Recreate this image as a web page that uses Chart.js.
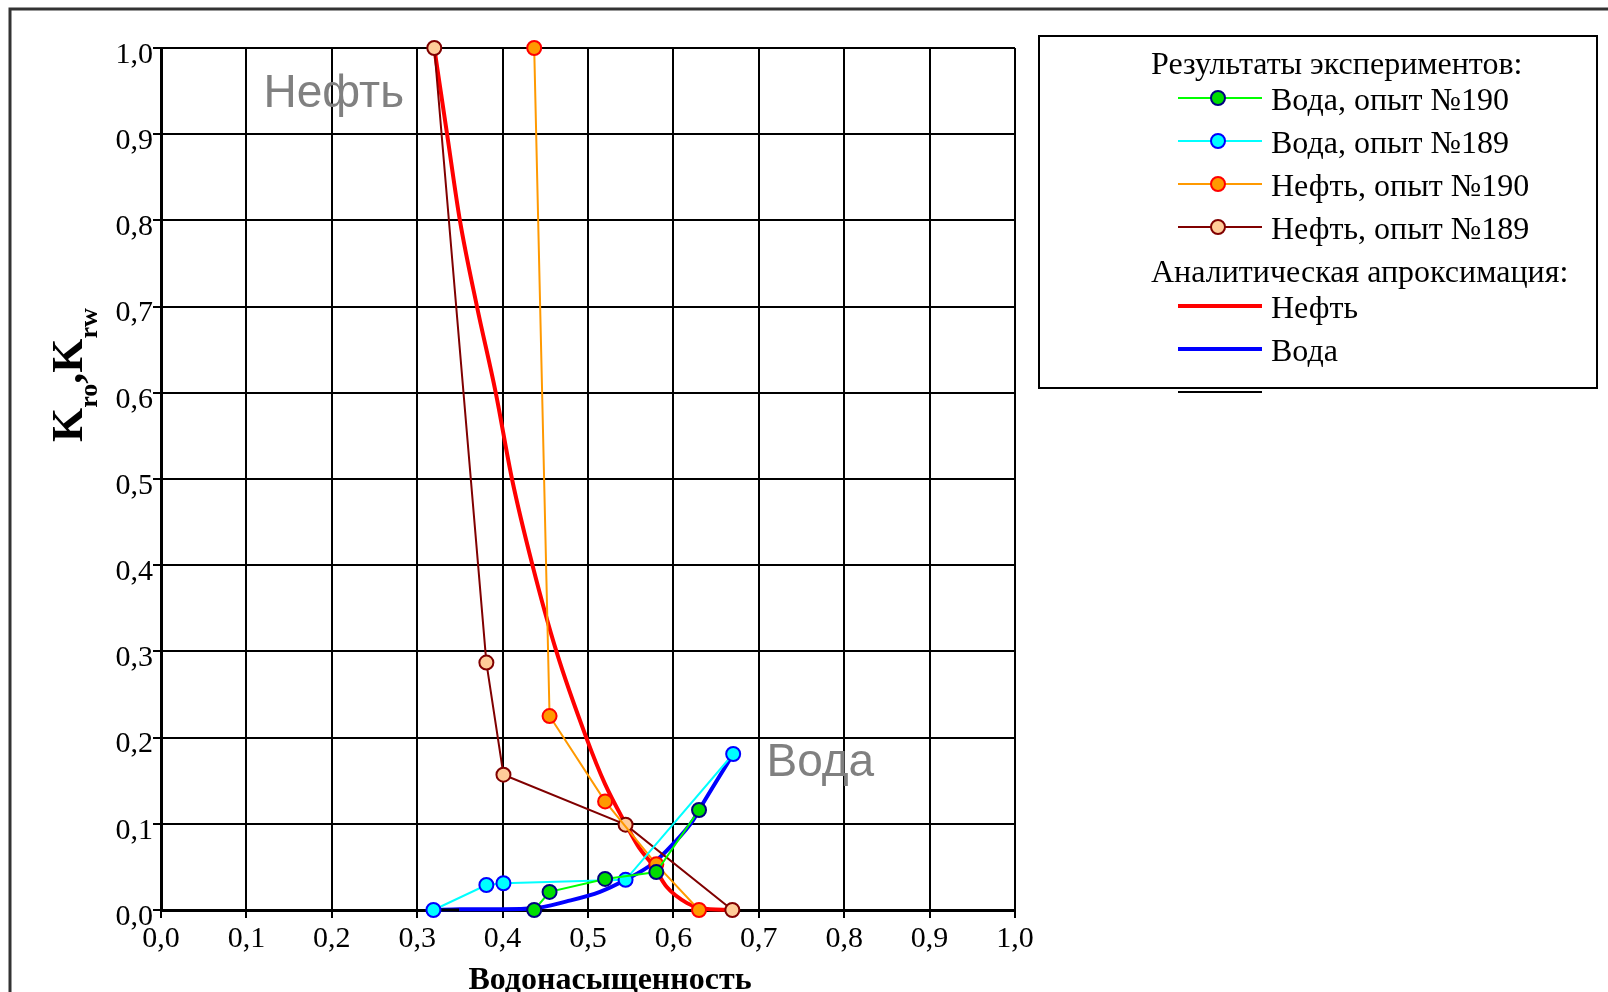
<!DOCTYPE html>
<html lang="ru">
<head>
<meta charset="utf-8">
<title>Фазовые проницаемости</title>
<script src="https://cdn.jsdelivr.net/npm/chart.js@4.4.1/dist/chart.umd.min.js"></script>
<style>
  html, body { margin: 0; padding: 0; background: #fff; }
  #wrap { position: relative; width: 1608px; height: 992px; overflow: hidden; }
</style>
</head>
<body>
<div id="wrap"><canvas id="kr" width="1608" height="992"></canvas></div>
<script>
const serif = '"Liberation Serif", "Times New Roman", serif';
const sans = '"Liberation Sans", Arial, sans-serif';

// шкалы (общие для обеих осей)
const tickValues = [0, 0.1, 0.2, 0.3, 0.4, 0.5, 0.6, 0.7, 0.8, 0.9, 1.0];

// опыт №190
const water190X = [0.437, 0.455, 0.52, 0.58, 0.63];
const water190Y = [0.0, 0.021, 0.036, 0.044, 0.116];
const oil190X = [0.437, 0.455, 0.52, 0.58, 0.63];
const oil190Y = [1.0, 0.225, 0.126, 0.053, 0.0];

// опыт №189
const water189X = [0.319, 0.381, 0.401, 0.544, 0.67];
const water189Y = [0.0, 0.029, 0.031, 0.035, 0.181];
const oil189X = [0.32, 0.381, 0.401, 0.544, 0.669];
const oil189Y = [1.0, 0.287, 0.157, 0.099, 0.0];

// аналитическая аппроксимация
const oilFitX = [0.32, 0.335, 0.35, 0.37, 0.392, 0.411, 0.435, 0.463, 0.498, 0.52, 0.544, 0.56, 0.576, 0.592, 0.616, 0.632, 0.668];
const oilFitY = [1.0, 0.9, 0.8, 0.7, 0.6, 0.5, 0.4, 0.3, 0.2, 0.146, 0.1, 0.072, 0.052, 0.027, 0.008, 0.002, 0.0];
const waterFitX = [0.319, 0.35, 0.40, 0.437, 0.475, 0.514, 0.544, 0.576, 0.6, 0.623, 0.63, 0.67];
const waterFitY = [0.0, 0.001, 0.001, 0.002, 0.01, 0.021, 0.035, 0.054, 0.077, 0.104, 0.116, 0.181];
const stubX = [0.32, 0.349];
const stubY = [0.0, 0.0];

const pts = (xs, ys) => xs.map((x, i) => ({ x, y: ys[i] }));
const fmt = v => v.toFixed(1).replace('.', ',');

function series(label, xs, ys, line, fill, edge) {
  return {
    label, data: pts(xs, ys), showLine: true, order: 1,
    borderColor: line, borderWidth: 2,
    pointRadius: 7, pointHoverRadius: 7, pointBorderWidth: 2,
    pointBackgroundColor: fill, pointBorderColor: edge
  };
}
function fit(label, xs, ys, color) {
  return {
    label, data: pts(xs, ys), showLine: true, order: 3, fit: true,
    borderColor: color, borderWidth: 4, pointRadius: 0,
    cubicInterpolationMode: 'monotone'
  };
}

const datasets = [
  series('Вода, опыт №190', water190X, water190Y, '#00ff00', '#00dd00', '#000080'),
  series('Вода, опыт №189', water189X, water189Y, '#00ffff', '#00ffff', '#0000ff'),
  series('Нефть, опыт №190', oil190X, oil190Y, '#ff9900', '#ff9900', '#ff0000'),
  series('Нефть, опыт №189', oil189X, oil189Y, '#800000', '#ffcc99', '#800000'),
  fit('Нефть', oilFitX, oilFitY, '#ff0000'),
  fit('Вода', waterFitX, waterFitY, '#0000ff'),
  { label: '', data: pts(stubX, stubY), showLine: true, order: 2, fit: true, borderColor: '#000', borderWidth: 3, pointRadius: 0 }
];

// рамка, подписи осей, надписи на поле и легенда
const decor = {
  id: 'decor',
  afterDraw(chart) {
    const { ctx, scales: { x, y } } = chart;
    ctx.save();

    ctx.strokeStyle = '#333';
    ctx.lineWidth = 3;
    ctx.strokeRect(10, 9, 1700, 1100);

    ctx.fillStyle = '#808080';
    ctx.font = '46px ' + sans;
    ctx.textAlign = 'left';
    ctx.textBaseline = 'alphabetic';
    ctx.fillText('Нефть', x.getPixelForValue(0.12), y.getPixelForValue(0.931));
    ctx.fillText('Вода', x.getPixelForValue(0.709), y.getPixelForValue(0.155));

    ctx.fillStyle = '#000';
    ctx.font = 'bold 32px ' + serif;
    ctx.textAlign = 'center';
    ctx.fillText('Водонасыщенность', 610, 989);

    // K_ro,K_rw — повернутая подпись с индексами
    ctx.save();
    ctx.translate(82, 442);
    ctx.rotate(-Math.PI / 2);
    ctx.textAlign = 'left';
    let pos = 0;
    [['K', 0], ['ro', 1], [',', 0], ['K', 0], ['rw', 1]].forEach(([t, sub]) => {
      ctx.font = sub ? 'bold 26px ' + serif : 'bold 44px ' + serif;
      ctx.fillText(t, pos, sub ? 15 : 0);
      pos += ctx.measureText(t).width;
    });
    ctx.restore();

    // легенда
    ctx.lineWidth = 2;
    ctx.strokeStyle = '#000';
    ctx.strokeRect(1039, 36, 558, 352);
    ctx.font = '32px ' + serif;
    ctx.textAlign = 'left';
    ctx.fillText('Результаты экспериментов:', 1151, 74);
    ctx.fillText('Аналитическая апроксимация:', 1151, 282);
    const rows = [98, 141, 184, 227, 306, 349, 392];
    chart.data.datasets.forEach((ds, i) => {
      const ly = rows[i];
      ctx.strokeStyle = ds.borderColor;
      ctx.lineWidth = ds.fit ? (ds.label ? 4 : 2) : 2;
      ctx.beginPath();
      ctx.moveTo(1178, ly);
      ctx.lineTo(1262, ly);
      ctx.stroke();
      if (!ds.fit) {
        ctx.beginPath();
        ctx.arc(1218, ly, 7, 0, Math.PI * 2);
        ctx.fillStyle = ds.pointBackgroundColor;
        ctx.fill();
        ctx.lineWidth = 2;
        ctx.strokeStyle = ds.pointBorderColor;
        ctx.stroke();
      }
      ctx.fillStyle = '#000';
      ctx.fillText(ds.label, 1271, ly + 12);
    });
    ctx.restore();
  }
};

function axis(extra) {
  return Object.assign({
    type: 'linear', min: 0, max: 1,
    afterBuildTicks: s => { s.ticks = tickValues.map(v => ({ value: v })); },
    grid: { color: '#000', lineWidth: 2, tickLength: 8, tickColor: '#000', tickWidth: 2 },
    border: { display: true, color: '#000', width: 3 }
  }, extra);
}

new Chart(document.getElementById('kr'), {
  type: 'scatter',
  data: { datasets },
  options: {
    responsive: false,
    animation: false,
    clip: false,
    layout: { padding: { left: 0, top: 48, right: 593, bottom: 0 } },
    plugins: { legend: { display: false }, tooltip: { enabled: false } },
    scales: {
      x: axis({
        afterFit: s => { s.height = 82; },
        ticks: { color: '#000', padding: 3, maxRotation: 0, font: { family: serif, size: 30 }, callback: fmt }
      }),
      y: axis({
        afterFit: s => { s.width = 161; },
        ticks: { color: '#000', padding: 0, labelOffset: 7, font: { family: serif, size: 30 }, callback: fmt }
      })
    }
  },
  plugins: [decor]
});
</script>
</body>
</html>
